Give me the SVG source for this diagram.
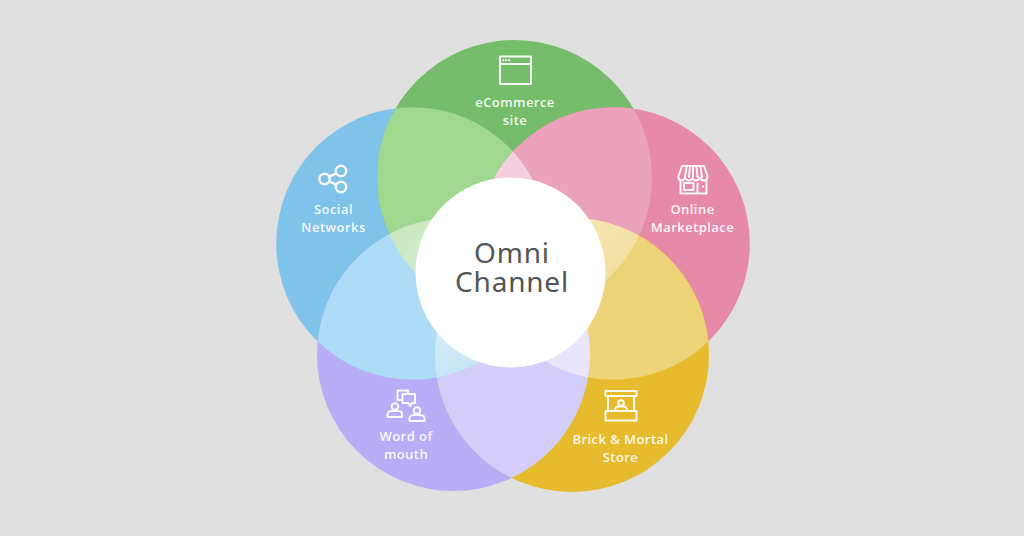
<svg xmlns="http://www.w3.org/2000/svg" width="1024" height="536" viewBox="0 0 1024 536">
<style>
.lb{font-family:"Open Sans","Liberation Sans",sans-serif;font-size:13px;font-weight:600;letter-spacing:.45px;fill:#fff;fill-opacity:.92;text-anchor:middle}
.ti{font-family:"Noto Sans","Open Sans",sans-serif;font-size:28px;fill:#555;text-anchor:middle;letter-spacing:.8px}
.ic{fill:none;stroke:#fff;stroke-opacity:.92;stroke-width:2;stroke-linejoin:round;stroke-linecap:round}
</style>
<defs>
<clipPath id="cG"><circle cx="514.5" cy="177.5" r="137.5"/></clipPath>
<clipPath id="cB"><circle cx="412.500" cy="243.5" r="136.300"/></clipPath>
<clipPath id="cP"><circle cx="613.500" cy="243.5" r="136.300"/></clipPath>
<clipPath id="cV"><circle cx="453.5" cy="354.5" r="136.5"/></clipPath>
<clipPath id="cY"><circle cx="572" cy="355" r="137"/></clipPath>
<clipPath id="cGB" clip-path="url(#cG)"><circle cx="412.500" cy="243.5" r="136.300"/></clipPath>
<clipPath id="cGP" clip-path="url(#cG)"><circle cx="613.500" cy="243.5" r="136.300"/></clipPath>
<clipPath id="cBP" clip-path="url(#cB)"><circle cx="613.500" cy="243.5" r="136.300"/></clipPath>
<clipPath id="cBV" clip-path="url(#cB)"><circle cx="453.5" cy="354.5" r="136.5"/></clipPath>
<clipPath id="cVY" clip-path="url(#cV)"><circle cx="572" cy="355" r="137"/></clipPath>
<clipPath id="cPY" clip-path="url(#cP)"><circle cx="572" cy="355" r="137"/></clipPath>
<linearGradient id="gL" x1="0" y1="0" x2="1" y2="1"><stop offset="0" stop-color="#c3e5ba"/><stop offset="1" stop-color="#d8eed2"/></linearGradient>
<linearGradient id="gR" x1="0" y1="0" x2="1" y2="1"><stop offset="0" stop-color="#f6e7b6"/><stop offset="1" stop-color="#f0dc98"/></linearGradient>
<linearGradient id="gBL" x1="0" y1="0" x2="1" y2="1"><stop offset="0" stop-color="#d6edf8"/><stop offset="1" stop-color="#bbe0f3"/></linearGradient>
</defs>
<rect width="1024" height="536" fill="#e0e0e0"/>
<g id="connectors"/>
<g id="circle-social"><circle cx="412.500" cy="243.5" r="136.300" fill="#80c3ea"/></g>
<g id="circle-ecommerce"><circle cx="514.5" cy="177.5" r="137.5" fill="#75bd6a"/></g>
<g id="circle-online"><circle cx="613.500" cy="243.5" r="136.300" fill="#e68aa8"/></g>
<g id="circle-word"><circle cx="453.5" cy="354.5" r="136.5" fill="#b7aef7"/></g>
<g id="circle-brick"><circle cx="572" cy="355" r="137" fill="#e6bb2e"/></g>
<g id="overlaps">
<rect width="1024" height="536" fill="#a0d890" clip-path="url(#cGB)"/>
<rect width="1024" height="536" fill="#eaa3bb" clip-path="url(#cGP)"/>
<rect width="1024" height="536" fill="#aedcf6" clip-path="url(#cBV)"/>
<rect width="1024" height="536" fill="#eed478" clip-path="url(#cPY)"/>
<rect width="1024" height="536" fill="#d3cdf9" clip-path="url(#cVY)"/>
<g clip-path="url(#cG)"><rect x="360" y="200" width="100" height="100" fill="url(#gL)" clip-path="url(#cBV)"/></g>
<g clip-path="url(#cG)"><rect x="560" y="200" width="100" height="100" fill="url(#gR)" clip-path="url(#cPY)"/></g>
<g clip-path="url(#cG)"><rect x="480" y="130" width="70" height="70" fill="#f5cfe0" clip-path="url(#cBP)"/></g>
<g clip-path="url(#cY)"><rect x="430" y="320" width="80" height="70" fill="url(#gBL)" clip-path="url(#cBV)"/></g>
<g clip-path="url(#cP)"><rect x="520" y="320" width="80" height="70" fill="#e9e5fb" clip-path="url(#cVY)"/></g>
</g>
<g id="center"><circle cx="510.5" cy="272.5" r="95" fill="#fff"/>
<text class="ti" x="512" y="263">Omni</text><text class="ti" x="512" y="292">Channel</text></g>
<g id="node-ecommerce">
<rect class="ic" x="500" y="56.500" width="31" height="27.500"/><path class="ic" d="M500 64H531"/><path class="ic" stroke-width="1.500" d="M503 60.200h.5M506 60.200h.5M509 60.200h.5"/>
<text class="lb" x="515" y="107">eCommerce</text><text class="lb" x="515" y="125">site</text></g>
<g id="node-social">
<g style="stroke-width:2.400"><circle class="ic" style="stroke-width:2.400" cx="341" cy="171" r="5.200"/><circle class="ic" style="stroke-width:2.400" cx="324.500" cy="179" r="5.200"/><circle class="ic" style="stroke-width:2.400" cx="341" cy="187" r="5.200"/><path class="ic" style="stroke-width:2.400" d="M329.300 176.700L336.300 173.300M329.300 181.300L336.300 184.700"/></g>
<text class="lb" x="333.500" y="214">Social</text><text class="lb" x="333.500" y="232">Networks</text></g>
<g id="node-online">
<path class="ic" d="M682 166H704L707.500 176Q707.500 180.500 704 180.500Q701 180.500 699.700 177.500Q698.500 180.500 695.500 180.500Q693 180.500 692.500 177.500Q691.500 180.500 689 180.500Q686 180.500 685 177.500Q684 180.500 681.500 180.500Q678 180 678.500 176ZM686.500 167L685 177M690 167L689 177M693 167V177M696.500 167L697.500 177M700.500 167L702 177"/>
<path class="ic" d="M680.500 181V193.500H706.500V181M684 190V183H693.500V190ZM697.500 193V183.500"/><path class="ic" stroke-width="1.500" d="M703 186.500h.3"/>
<text class="lb" x="692.500" y="214">Online</text><text class="lb" x="692.500" y="232">Marketplace</text></g>
<g id="node-word">
<path class="ic" stroke-width="1.700" d="M402 400H397.500V390.500H408V394M402.500 394H415V403H412L410.500 406L408 403H402.500Z"/>
<circle class="ic" stroke-width="1.700" cx="395" cy="406.500" r="3.300"/><path class="ic" stroke-width="1.700" d="M387.500 417V414Q388 411 392 411H398Q402 411 402 414V417Z"/>
<circle class="ic" stroke-width="1.700" cx="417" cy="410.500" r="3.300"/><path class="ic" stroke-width="1.700" d="M409.500 421V418Q410 415 414 415H420Q424.500 415 424.500 418V421Z"/>
<text class="lb" x="406" y="441">Word of</text><text class="lb" x="406" y="459">mouth</text></g>
<g id="node-brick">
<rect class="ic" x="605.500" y="391" width="31" height="5"/><path class="ic" d="M608 396V411M634 396V411"/><rect class="ic" x="605.500" y="411" width="31" height="9.500"/>
<circle class="ic" stroke-width="1.600" cx="621" cy="403" r="2.800"/><path class="ic" stroke-width="1.600" d="M615 411V409Q616 406.500 619 406.500H623Q626 406.500 627 409V411"/>
<text class="lb" x="620.500" y="444">Brick &amp; Mortal</text><text class="lb" x="620.500" y="462">Store</text></g>
</svg>
